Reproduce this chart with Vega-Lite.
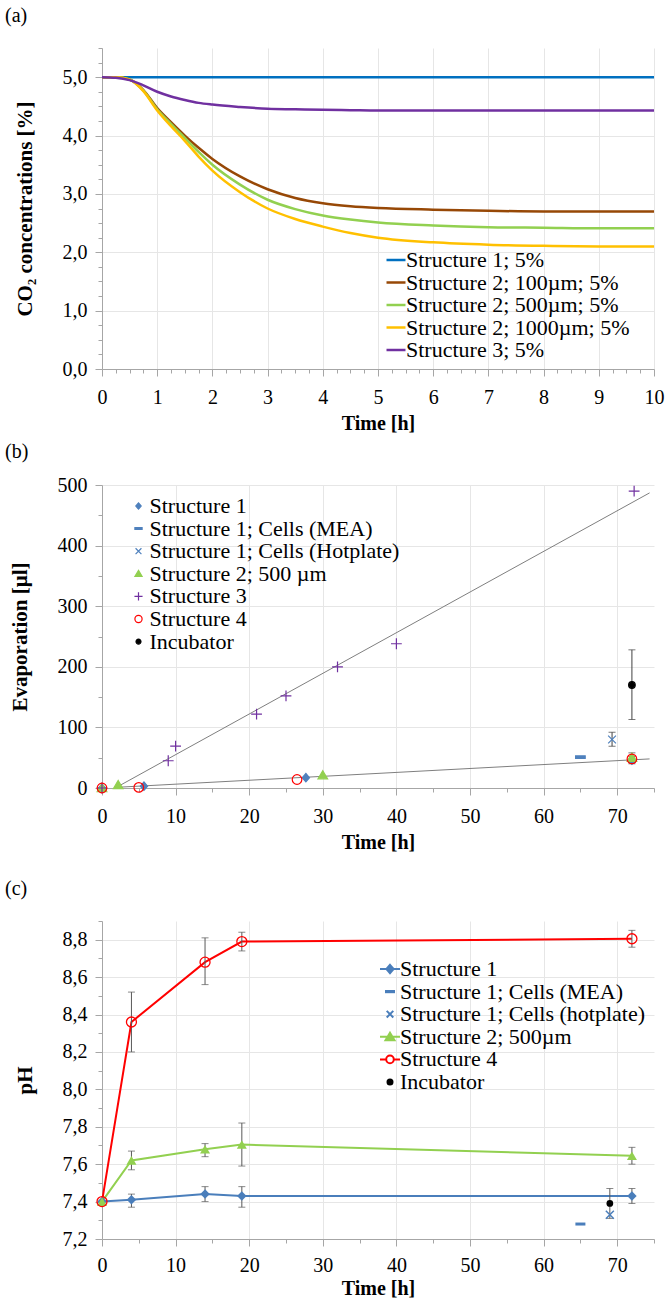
{
  "$schema": "https://vega.github.io/schema/vega-lite/v6.json",
  "padding": {"left": 5, "top": 6, "right": 5, "bottom": 0},
  "spacing": 9,
  "resolve": {
    "scale": {"x": "independent", "y": "independent", "color": "independent", "shape": "independent", "stroke": "independent", "fill": "independent"},
    "axis": {"x": "independent", "y": "independent"},
    "legend": {"color": "independent", "shape": "independent", "stroke": "independent", "fill": "independent"}
  },
  "config": {
    "font": "Liberation Serif",
    "view": {"stroke": null},
    "axis": {
      "labelFont": "Liberation Serif", "labelFontSize": 20, "labelColor": "#000000",
      "titleFont": "Liberation Serif", "titleFontSize": 20, "titleFontWeight": "bold", "titleColor": "#000000",
      "domainColor": "#A6A6A6", "tickColor": "#A6A6A6", "gridColor": "#E6E6E6",
      "labelOverlap": false, "labelFlush": false
    },
    "axisX": {"labelPadding": 11, "titlePadding": 6},
    "axisY": {"labelPadding": 8, "titlePadding": 27, "titleFontSize": 21},
    "legend": {"labelFont": "Liberation Serif", "labelFontSize": 22, "labelColor": "#000000", "labelLimit": 400, "padding": 0, "rowPadding": 0.6},
    "title": {"font": "Liberation Serif", "fontSize": 20, "fontWeight": "normal", "color": "#000000", "anchor": "start", "frame": "group", "dx": -97}
  },
  "datasets": {
    "co2": [
      {"s": "Structure 1; 5%", "t": 0, "v": 5.0}, {"s": "Structure 1; 5%", "t": 5, "v": 5.0}, {"s": "Structure 1; 5%", "t": 10, "v": 5.0},
      {"s": "Structure 2; 100µm; 5%", "t": 0, "v": 5.0}, {"s": "Structure 2; 100µm; 5%", "t": 0.25, "v": 5.0}, {"s": "Structure 2; 100µm; 5%", "t": 0.5, "v": 4.96}, {"s": "Structure 2; 100µm; 5%", "t": 0.75, "v": 4.78}, {"s": "Structure 2; 100µm; 5%", "t": 1, "v": 4.47}, {"s": "Structure 2; 100µm; 5%", "t": 1.25, "v": 4.23}, {"s": "Structure 2; 100µm; 5%", "t": 1.5, "v": 4.0}, {"s": "Structure 2; 100µm; 5%", "t": 1.75, "v": 3.79}, {"s": "Structure 2; 100µm; 5%", "t": 2, "v": 3.6}, {"s": "Structure 2; 100µm; 5%", "t": 2.5, "v": 3.3}, {"s": "Structure 2; 100µm; 5%", "t": 3, "v": 3.08}, {"s": "Structure 2; 100µm; 5%", "t": 3.5, "v": 2.93}, {"s": "Structure 2; 100µm; 5%", "t": 4, "v": 2.84}, {"s": "Structure 2; 100µm; 5%", "t": 4.5, "v": 2.79}, {"s": "Structure 2; 100µm; 5%", "t": 5, "v": 2.76}, {"s": "Structure 2; 100µm; 5%", "t": 6, "v": 2.73}, {"s": "Structure 2; 100µm; 5%", "t": 7, "v": 2.71}, {"s": "Structure 2; 100µm; 5%", "t": 8, "v": 2.7}, {"s": "Structure 2; 100µm; 5%", "t": 9, "v": 2.7}, {"s": "Structure 2; 100µm; 5%", "t": 10, "v": 2.7},
      {"s": "Structure 2; 500µm; 5%", "t": 0, "v": 5.0}, {"s": "Structure 2; 500µm; 5%", "t": 0.25, "v": 5.0}, {"s": "Structure 2; 500µm; 5%", "t": 0.5, "v": 4.96}, {"s": "Structure 2; 500µm; 5%", "t": 0.75, "v": 4.77}, {"s": "Structure 2; 500µm; 5%", "t": 1, "v": 4.45}, {"s": "Structure 2; 500µm; 5%", "t": 1.25, "v": 4.2}, {"s": "Structure 2; 500µm; 5%", "t": 1.5, "v": 3.96}, {"s": "Structure 2; 500µm; 5%", "t": 1.75, "v": 3.72}, {"s": "Structure 2; 500µm; 5%", "t": 2, "v": 3.5}, {"s": "Structure 2; 500µm; 5%", "t": 2.5, "v": 3.16}, {"s": "Structure 2; 500µm; 5%", "t": 3, "v": 2.9}, {"s": "Structure 2; 500µm; 5%", "t": 3.5, "v": 2.74}, {"s": "Structure 2; 500µm; 5%", "t": 4, "v": 2.63}, {"s": "Structure 2; 500µm; 5%", "t": 4.5, "v": 2.56}, {"s": "Structure 2; 500µm; 5%", "t": 5, "v": 2.51}, {"s": "Structure 2; 500µm; 5%", "t": 6, "v": 2.46}, {"s": "Structure 2; 500µm; 5%", "t": 7, "v": 2.43}, {"s": "Structure 2; 500µm; 5%", "t": 8, "v": 2.42}, {"s": "Structure 2; 500µm; 5%", "t": 9, "v": 2.41}, {"s": "Structure 2; 500µm; 5%", "t": 10, "v": 2.41},
      {"s": "Structure 2; 1000µm; 5%", "t": 0, "v": 5.0}, {"s": "Structure 2; 1000µm; 5%", "t": 0.25, "v": 5.0}, {"s": "Structure 2; 1000µm; 5%", "t": 0.5, "v": 4.96}, {"s": "Structure 2; 1000µm; 5%", "t": 0.75, "v": 4.76}, {"s": "Structure 2; 1000µm; 5%", "t": 1, "v": 4.43}, {"s": "Structure 2; 1000µm; 5%", "t": 1.25, "v": 4.16}, {"s": "Structure 2; 1000µm; 5%", "t": 1.5, "v": 3.91}, {"s": "Structure 2; 1000µm; 5%", "t": 1.75, "v": 3.64}, {"s": "Structure 2; 1000µm; 5%", "t": 2, "v": 3.4}, {"s": "Structure 2; 1000µm; 5%", "t": 2.5, "v": 3.03}, {"s": "Structure 2; 1000µm; 5%", "t": 3, "v": 2.75}, {"s": "Structure 2; 1000µm; 5%", "t": 3.5, "v": 2.57}, {"s": "Structure 2; 1000µm; 5%", "t": 4, "v": 2.44}, {"s": "Structure 2; 1000µm; 5%", "t": 4.5, "v": 2.33}, {"s": "Structure 2; 1000µm; 5%", "t": 5, "v": 2.25}, {"s": "Structure 2; 1000µm; 5%", "t": 6, "v": 2.17}, {"s": "Structure 2; 1000µm; 5%", "t": 7, "v": 2.13}, {"s": "Structure 2; 1000µm; 5%", "t": 8, "v": 2.11}, {"s": "Structure 2; 1000µm; 5%", "t": 9, "v": 2.1}, {"s": "Structure 2; 1000µm; 5%", "t": 10, "v": 2.1},
      {"s": "Structure 3; 5%", "t": 0, "v": 5.0}, {"s": "Structure 3; 5%", "t": 0.25, "v": 4.99}, {"s": "Structure 3; 5%", "t": 0.5, "v": 4.95}, {"s": "Structure 3; 5%", "t": 0.75, "v": 4.86}, {"s": "Structure 3; 5%", "t": 1, "v": 4.75}, {"s": "Structure 3; 5%", "t": 1.25, "v": 4.67}, {"s": "Structure 3; 5%", "t": 1.5, "v": 4.61}, {"s": "Structure 3; 5%", "t": 1.75, "v": 4.56}, {"s": "Structure 3; 5%", "t": 2, "v": 4.53}, {"s": "Structure 3; 5%", "t": 2.5, "v": 4.49}, {"s": "Structure 3; 5%", "t": 3, "v": 4.46}, {"s": "Structure 3; 5%", "t": 3.5, "v": 4.45}, {"s": "Structure 3; 5%", "t": 4, "v": 4.44}, {"s": "Structure 3; 5%", "t": 4.5, "v": 4.435}, {"s": "Structure 3; 5%", "t": 5, "v": 4.43}, {"s": "Structure 3; 5%", "t": 6, "v": 4.43}, {"s": "Structure 3; 5%", "t": 7, "v": 4.43}, {"s": "Structure 3; 5%", "t": 8, "v": 4.43}, {"s": "Structure 3; 5%", "t": 9, "v": 4.43}, {"s": "Structure 3; 5%", "t": 10, "v": 4.43}
    ],
    "evap": [
      {"s": "Structure 1", "t": 0, "v": 0}, {"s": "Structure 1", "t": 5.7, "v": 3}, {"s": "Structure 1", "t": 27.7, "v": 17}, {"s": "Structure 1", "t": 72, "v": 46},
      {"s": "Structure 1; Cells (MEA)", "t": 65, "v": 51},
      {"s": "Structure 1; Cells (Hotplate)", "t": 69.3, "v": 80},
      {"s": "Structure 2; 500 µm", "t": 0, "v": 0}, {"s": "Structure 2; 500 µm", "t": 2.2, "v": 5}, {"s": "Structure 2; 500 µm", "t": 30, "v": 21}, {"s": "Structure 2; 500 µm", "t": 72, "v": 50},
      {"s": "Structure 3", "t": 0, "v": 0}, {"s": "Structure 3", "t": 9, "v": 45}, {"s": "Structure 3", "t": 10, "v": 69}, {"s": "Structure 3", "t": 21, "v": 122}, {"s": "Structure 3", "t": 25, "v": 152}, {"s": "Structure 3", "t": 32, "v": 200}, {"s": "Structure 3", "t": 40, "v": 238}, {"s": "Structure 3", "t": 72.3, "v": 490},
      {"s": "Structure 4", "t": 0, "v": 0}, {"s": "Structure 4", "t": 5, "v": 1}, {"s": "Structure 4", "t": 26.5, "v": 14}, {"s": "Structure 4", "t": 72, "v": 48},
      {"s": "Incubator", "t": 72, "v": 170}
    ],
    "evap_err": [
      {"s": "Structure 1", "t": 72, "lo": 40, "hi": 52},
      {"s": "Structure 1; Cells (Hotplate)", "t": 69.3, "lo": 69, "hi": 92},
      {"s": "Structure 2; 500 µm", "t": 72, "lo": 42, "hi": 58},
      {"s": "Incubator", "t": 72, "lo": 113, "hi": 228}
    ],
    "trend": [
      {"s": "Structure 3 trend", "t": 1.8, "v": 0}, {"s": "Structure 3 trend", "t": 74.4, "v": 487},
      {"s": "Structure 1 trend", "t": 1.8, "v": 1}, {"s": "Structure 1 trend", "t": 74.4, "v": 48}
    ],
    "ph": [
      {"s": "Structure 1", "t": 0, "v": 7.40}, {"s": "Structure 1", "t": 4, "v": 7.41}, {"s": "Structure 1", "t": 14, "v": 7.44}, {"s": "Structure 1", "t": 19, "v": 7.43}, {"s": "Structure 1", "t": 72, "v": 7.43},
      {"s": "Structure 1; Cells (MEA)", "t": 65, "v": 7.28},
      {"s": "Structure 1; Cells (hotplate)", "t": 69, "v": 7.33},
      {"s": "Structure 2; 500µm", "t": 0, "v": 7.40}, {"s": "Structure 2; 500µm", "t": 4, "v": 7.62}, {"s": "Structure 2; 500µm", "t": 14, "v": 7.68}, {"s": "Structure 2; 500µm", "t": 19, "v": 7.705}, {"s": "Structure 2; 500µm", "t": 72, "v": 7.645},
      {"s": "Structure 4", "t": 0, "v": 7.40}, {"s": "Structure 4", "t": 4, "v": 8.36}, {"s": "Structure 4", "t": 14, "v": 8.68}, {"s": "Structure 4", "t": 19, "v": 8.79}, {"s": "Structure 4", "t": 72, "v": 8.805},
      {"s": "Incubator", "t": 69, "v": 7.39}
    ],
    "ph_err": [
      {"s": "Structure 1", "t": 4, "lo": 7.37, "hi": 7.44}, {"s": "Structure 1", "t": 14, "lo": 7.40, "hi": 7.48}, {"s": "Structure 1", "t": 19, "lo": 7.37, "hi": 7.48}, {"s": "Structure 1", "t": 72, "lo": 7.39, "hi": 7.47},
      {"s": "Structure 2; 500µm", "t": 4, "lo": 7.57, "hi": 7.67}, {"s": "Structure 2; 500µm", "t": 14, "lo": 7.64, "hi": 7.71}, {"s": "Structure 2; 500µm", "t": 19, "lo": 7.59, "hi": 7.82}, {"s": "Structure 2; 500µm", "t": 72, "lo": 7.60, "hi": 7.69},
      {"s": "Structure 4", "t": 4, "lo": 8.20, "hi": 8.52}, {"s": "Structure 4", "t": 14, "lo": 8.56, "hi": 8.81}, {"s": "Structure 4", "t": 19, "lo": 8.74, "hi": 8.84}, {"s": "Structure 4", "t": 72, "lo": 8.76, "hi": 8.85},
      {"s": "Incubator", "t": 69, "lo": 7.31, "hi": 7.47}
    ]
  },
  "vconcat": [
    {
      "width": 552, "height": 321,
      "title": {"text": "(a)", "offset": 21},
      "data": {"name": "co2"},
      "mark": {"type": "line", "strokeWidth": 2.5, "interpolate": "monotone"},
      "encoding": {
        "x": {"field": "t", "type": "quantitative", "scale": {"domain": [0, 10], "nice": false},
          "axis": {"title": "Time [h]", "tickCount": 200, "labelOverlap": false, "values": [0,0.25,0.5,0.75,1,1.25,1.5,1.75,2,2.25,2.5,2.75,3,3.25,3.5,3.75,4,4.25,4.5,4.75,5,5.25,5.5,5.75,6,6.25,6.5,6.75,7,7.25,7.5,7.75,8,8.25,8.5,8.75,9,9.25,9.5,9.75,10],
            "labelExpr": "datum.value % 1 === 0 ? format(datum.value, 'd') : ''",
            "labelFontSize": {"condition": {"test": "datum.value % 1 === 0", "value": 20}, "value": 1},
            "gridOpacity": {"condition": {"test": "datum.value % 1 === 0", "value": 1}, "value": 0},
            "tickSize": {"condition": {"test": "datum.value % 1 === 0", "value": 7}, "value": 4}}},
        "y": {"field": "v", "type": "quantitative", "scale": {"domain": [0, 5.5], "nice": false},
          "axis": {"title": "CO₂ concentrations [%]", "tickCount": 200, "labelOverlap": false, "values": [0,0.25,0.5,0.75,1,1.25,1.5,1.75,2,2.25,2.5,2.75,3,3.25,3.5,3.75,4,4.25,4.5,4.75,5,5.25,5.5],
            "labelExpr": "datum.value % 1 === 0 ? replace(format(datum.value, '.1f'), '.', ',') : ''",
            "labelFontSize": {"condition": {"test": "datum.value % 1 === 0", "value": 20}, "value": 1},
            "gridOpacity": {"condition": {"test": "datum.value % 1 === 0", "value": 1}, "value": 0},
            "tickSize": {"condition": {"test": "datum.value % 1 === 0", "value": 7}, "value": 4}}},
        "color": {"field": "s", "type": "nominal",
          "scale": {"domain": ["Structure 1; 5%", "Structure 2; 100µm; 5%", "Structure 2; 500µm; 5%", "Structure 2; 1000µm; 5%", "Structure 3; 5%"],
                    "range": ["#0070C0", "#974806", "#92D050", "#FFC000", "#7030A0"]},
          "legend": {"title": null, "orient": "none", "legendX": 283, "legendY": 201, "rowPadding": 0.5, "symbolType": "stroke", "symbolSize": 361, "symbolStrokeWidth": 2.5, "labelOffset": -1}}
      }
    },
    {
      "width": 552, "height": 303,
      "title": {"text": "(b)", "offset": 13},
      "layer": [
        {
          "data": {"name": "trend"},
          "mark": {"type": "line", "color": "#7F7F7F", "strokeWidth": 1},
          "encoding": {
            "x": {"field": "t", "type": "quantitative", "scale": {"domain": [0, 75], "nice": false},
              "axis": {"title": ["Time [h]", " "], "titleLineHeight": 18, "tickCount": 200, "labelOverlap": false, "values": [0,5,10,15,20,25,30,35,40,45,50,55,60,65,70,75],
                "labelExpr": "datum.value % 10 === 0 ? format(datum.value, 'd') : ''",
                "labelFontSize": {"condition": {"test": "datum.value % 10 === 0", "value": 20}, "value": 1},
                "gridOpacity": {"condition": {"test": "datum.value % 10 === 0", "value": 1}, "value": 0},
                "tickSize": {"condition": {"test": "datum.value % 10 === 0", "value": 7}, "value": 4}}},
            "y": {"field": "v", "type": "quantitative", "scale": {"domain": [0, 500], "nice": false},
              "axis": {"title": "Evaporation [µl]", "tickCount": 200, "labelOverlap": false, "values": [0,50,100,150,200,250,300,350,400,450,500],
                "labelExpr": "datum.value % 100 === 0 ? format(datum.value, 'd') : ''",
                "labelFontSize": {"condition": {"test": "datum.value % 100 === 0", "value": 20}, "value": 1},
                "gridOpacity": {"condition": {"test": "datum.value % 100 === 0", "value": 1}, "value": 0},
                "tickSize": {"condition": {"test": "datum.value % 100 === 0", "value": 7}, "value": 4}}},
            "detail": {"field": "s"}
          }
        },
        {
          "data": {"name": "evap_err"},
          "mark": {"type": "rule", "color": "#404040", "strokeWidth": 1},
          "encoding": {
            "x": {"field": "t", "type": "quantitative"},
            "y": {"field": "lo", "type": "quantitative"},
            "y2": {"field": "hi"}
          }
        },
        {
          "data": {"name": "evap_err"},
          "mark": {"type": "tick", "orient": "horizontal", "color": "#404040", "size": 7, "thickness": 1},
          "encoding": {
            "x": {"field": "t", "type": "quantitative"},
            "y": {"field": "lo", "type": "quantitative"}
          }
        },
        {
          "data": {"name": "evap_err"},
          "mark": {"type": "tick", "orient": "horizontal", "color": "#404040", "size": 7, "thickness": 1},
          "encoding": {
            "x": {"field": "t", "type": "quantitative"},
            "y": {"field": "hi", "type": "quantitative"}
          }
        },
        {
          "data": {"name": "evap"},
          "mark": {"type": "point", "filled": false, "size": 144, "strokeWidth": 1.2, "opacity": 1},
          "encoding": {
            "x": {"field": "t", "type": "quantitative"},
            "y": {"field": "v", "type": "quantitative"},
            "shape": {"field": "s", "type": "nominal",
              "scale": {"domain": ["Structure 1", "Structure 1; Cells (MEA)", "Structure 1; Cells (Hotplate)", "Structure 2; 500 µm", "Structure 3", "Structure 4", "Incubator"],
                "range": ["M0,-0.7L0.6,0L0,0.7L-0.6,0Z", "M-0.8,-0.2H0.8V0.2H-0.8Z", "M-0.65,-0.65L0.65,0.65M-0.65,0.65L0.65,-0.65", "M0,-0.75L0.8,0.6L-0.8,0.6Z", "M-0.9,0H0.9M0,-0.9V0.9", "M-0.8,0A0.8,0.8 0 1,0 0.8,0A0.8,0.8 0 1,0 -0.8,0Z", "M-0.55,0A0.55,0.55 0 1,0 0.55,0A0.55,0.55 0 1,0 -0.55,0Z"]},
              "legend": {"title": null, "orient": "none", "legendX": 25.5, "legendY": 10, "symbolSize": 81, "symbolStrokeWidth": 1.2, "labelOffset": 0, "symbolFillColor": "transparent", "symbolStrokeColor": "#000000"}},
            "stroke": {"field": "s", "type": "nominal",
              "scale": {"domain": ["Structure 1", "Structure 1; Cells (MEA)", "Structure 1; Cells (Hotplate)", "Structure 2; 500 µm", "Structure 3", "Structure 4", "Incubator"],
                "range": ["#4F81BD", "#4F81BD", "#4F81BD", "#92D050", "#7030A0", "#FF0000", "#000000"]},
              "legend": {"title": null, "orient": "none", "legendX": 25.5, "legendY": 10, "symbolSize": 81, "symbolStrokeWidth": 1.2, "labelOffset": 0, "symbolFillColor": "transparent", "symbolStrokeColor": "#000000"}},
            "fill": {"field": "s", "type": "nominal",
              "scale": {"domain": ["Structure 1", "Structure 1; Cells (MEA)", "Structure 1; Cells (Hotplate)", "Structure 2; 500 µm", "Structure 3", "Structure 4", "Incubator"],
                "range": ["#4F81BD", "#4F81BD", "transparent", "#92D050", "transparent", "transparent", "#000000"]},
              "legend": {"title": null, "orient": "none", "legendX": 25.5, "legendY": 10, "symbolSize": 81, "symbolStrokeWidth": 1.2, "labelOffset": 0, "symbolFillColor": "transparent", "symbolStrokeColor": "#000000"}}
          }
        }
      ]
    },
    {
      "width": 552, "height": 318,
      "title": {"text": "(c)", "offset": 21},
      "layer": [
        {
          "data": {"name": "ph"},
          "transform": [{"filter": {"field": "s", "oneOf": ["Structure 1", "Structure 2; 500µm", "Structure 4"]}}],
          "mark": {"type": "line", "strokeWidth": 2},
          "encoding": {
            "x": {"field": "t", "type": "quantitative", "scale": {"domain": [0, 75], "nice": false},
              "axis": {"title": "Time [h]", "labelPadding": 9, "titlePadding": 3, "tickCount": 200, "labelOverlap": false, "values": [0,5,10,15,20,25,30,35,40,45,50,55,60,65,70,75],
                "labelExpr": "datum.value % 10 === 0 ? format(datum.value, 'd') : ''",
                "labelFontSize": {"condition": {"test": "datum.value % 10 === 0", "value": 20}, "value": 1},
                "gridOpacity": {"condition": {"test": "datum.value % 10 === 0", "value": 1}, "value": 0},
                "tickSize": {"condition": {"test": "datum.value % 10 === 0", "value": 7}, "value": 4}}},
            "y": {"field": "v", "type": "quantitative", "scale": {"domain": [7.2, 8.9], "nice": false, "zero": false},
              "axis": {"title": "pH", "tickCount": 200, "labelOverlap": false, "values": [7.2,7.3,7.4,7.5,7.6,7.7,7.8,7.9,8.0,8.1,8.2,8.3,8.4,8.5,8.6,8.7,8.8,8.9],
                "labelExpr": "abs(datum.value * 5 - round(datum.value * 5)) < 0.01 ? replace(format(datum.value, '.1f'), '.', ',') : ''",
                "labelFontSize": {"condition": {"test": "abs(datum.value * 5 - round(datum.value * 5)) < 0.01", "value": 20}, "value": 1},
                "gridOpacity": {"condition": {"test": "abs(datum.value * 5 - round(datum.value * 5)) < 0.01", "value": 1}, "value": 0},
                "tickSize": {"condition": {"test": "abs(datum.value * 5 - round(datum.value * 5)) < 0.01", "value": 7}, "value": 4}}},
            "color": {"field": "s", "type": "nominal", "scale": {"domain": ["Structure 1", "Structure 2; 500µm", "Structure 4"], "range": ["#4A7EBB", "#92D050", "#FF0000"]}, "legend": null}
          }
        },
        {
          "data": {"name": "ph_err"},
          "mark": {"type": "rule", "color": "#595959", "strokeWidth": 1},
          "encoding": {
            "x": {"field": "t", "type": "quantitative"},
            "y": {"field": "lo", "type": "quantitative"},
            "y2": {"field": "hi"}
          }
        },
        {
          "data": {"name": "ph_err"},
          "mark": {"type": "tick", "orient": "horizontal", "color": "#595959", "size": 7, "thickness": 1},
          "encoding": {
            "x": {"field": "t", "type": "quantitative"},
            "y": {"field": "lo", "type": "quantitative"}
          }
        },
        {
          "data": {"name": "ph_err"},
          "mark": {"type": "tick", "orient": "horizontal", "color": "#595959", "size": 7, "thickness": 1},
          "encoding": {
            "x": {"field": "t", "type": "quantitative"},
            "y": {"field": "hi", "type": "quantitative"}
          }
        },
        {
          "data": {"name": "ph"},
          "transform": [{"filter": "datum.s === 'Structure 1'"}],
          "mark": {"type": "point", "shape": "diamond", "filled": true, "size": 90, "color": "#4A7EBB", "opacity": 1},
          "encoding": {"x": {"field": "t", "type": "quantitative"}, "y": {"field": "v", "type": "quantitative"}}
        },
        {
          "data": {"name": "ph"},
          "transform": [{"filter": "datum.s === 'Structure 1; Cells (MEA)'"}],
          "mark": {"type": "point", "shape": "M-1,-0.3H1V0.3H-1Z", "filled": true, "size": 100, "color": "#4A7EBB", "opacity": 1},
          "encoding": {"x": {"field": "t", "type": "quantitative"}, "y": {"field": "v", "type": "quantitative"}}
        },
        {
          "data": {"name": "ph"},
          "transform": [{"filter": "datum.s === 'Structure 1; Cells (hotplate)'"}],
          "mark": {"type": "point", "shape": "M-1,-1L1,1M-1,1L1,-1", "filled": false, "size": 64, "strokeWidth": 1.5, "color": "#4A7EBB", "opacity": 1},
          "encoding": {"x": {"field": "t", "type": "quantitative"}, "y": {"field": "v", "type": "quantitative"}}
        },
        {
          "data": {"name": "ph"},
          "transform": [{"filter": "datum.s === 'Structure 2; 500µm'"}],
          "mark": {"type": "point", "shape": "triangle-up", "filled": true, "size": 100, "color": "#92D050", "opacity": 1},
          "encoding": {"x": {"field": "t", "type": "quantitative"}, "y": {"field": "v", "type": "quantitative"}}
        },
        {
          "data": {"name": "ph"},
          "transform": [{"filter": "datum.s === 'Structure 4'"}],
          "mark": {"type": "point", "shape": "circle", "filled": false, "size": 100, "strokeWidth": 1.3, "color": "#FF0000", "opacity": 1},
          "encoding": {"x": {"field": "t", "type": "quantitative"}, "y": {"field": "v", "type": "quantitative"}}
        },
        {
          "data": {"name": "ph"},
          "transform": [{"filter": "datum.s === 'Incubator'"}],
          "mark": {"type": "point", "shape": "circle", "filled": true, "size": 45, "color": "#000000", "opacity": 1},
          "encoding": {"x": {"field": "t", "type": "quantitative"}, "y": {"field": "v", "type": "quantitative"}}
        },
        {
          "data": {"name": "ph"},
          "mark": {"type": "point", "filled": false, "size": 400, "strokeWidth": 2, "opacity": 0},
          "encoding": {
            "x": {"field": "t", "type": "quantitative"},
            "y": {"field": "v", "type": "quantitative"},
            "shape": {"field": "s", "type": "nominal",
              "scale": {"domain": ["Structure 1", "Structure 1; Cells (MEA)", "Structure 1; Cells (hotplate)", "Structure 2; 500µm", "Structure 4", "Incubator"],
                "range": ["M-1,0H1M0,-0.42L0.36,0L0,0.42L-0.36,0Z", "M-0.4,-0.06H0.4V0.06H-0.4Z", "M-0.33,-0.33L0.33,0.33M-0.33,0.33L0.33,-0.33", "M-1,0H1M0,-0.4L0.45,0.35L-0.45,0.35Z", "M-1,0H-0.38M0.38,0H1M-0.38,0A0.38,0.38 0 1,0 0.38,0A0.38,0.38 0 1,0 -0.38,0Z", "M-0.25,0A0.25,0.25 0 1,0 0.25,0A0.25,0.25 0 1,0 -0.25,0Z"]},
              "legend": {"title": null, "orient": "none", "legendX": 277, "legendY": 37, "symbolSize": 400, "symbolStrokeWidth": 2, "symbolOpacity": 1, "labelOffset": -1, "symbolFillColor": "transparent", "symbolStrokeColor": "#000000"}},
            "stroke": {"field": "s", "type": "nominal",
              "scale": {"domain": ["Structure 1", "Structure 1; Cells (MEA)", "Structure 1; Cells (hotplate)", "Structure 2; 500µm", "Structure 4", "Incubator"],
                "range": ["#4A7EBB", "#4A7EBB", "#4A7EBB", "#92D050", "#FF0000", "#000000"]},
              "legend": {"title": null, "orient": "none", "legendX": 277, "legendY": 37, "symbolSize": 400, "symbolStrokeWidth": 2, "symbolOpacity": 1, "labelOffset": -1, "symbolFillColor": "transparent", "symbolStrokeColor": "#000000"}},
            "fill": {"field": "s", "type": "nominal",
              "scale": {"domain": ["Structure 1", "Structure 1; Cells (MEA)", "Structure 1; Cells (hotplate)", "Structure 2; 500µm", "Structure 4", "Incubator"],
                "range": ["#4A7EBB", "#4A7EBB", "transparent", "#92D050", "#FFFFFF", "#000000"]},
              "legend": {"title": null, "orient": "none", "legendX": 277, "legendY": 37, "symbolSize": 400, "symbolStrokeWidth": 2, "symbolOpacity": 1, "labelOffset": -1, "symbolFillColor": "transparent", "symbolStrokeColor": "#000000"}}
          }
        }
      ]
    }
  ]
}
